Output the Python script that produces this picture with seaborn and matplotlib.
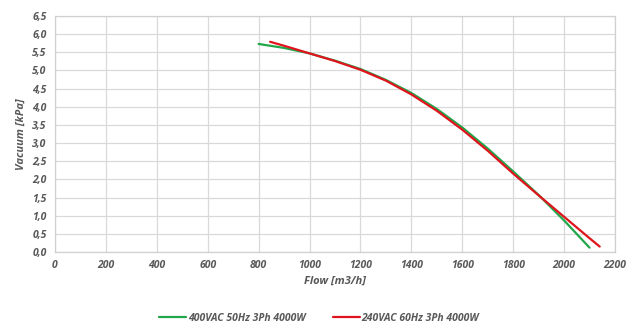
import numpy as np
import pandas as pd
import matplotlib
matplotlib.use("Agg")
import matplotlib.pyplot as plt
import seaborn as sns
from matplotlib.ticker import FuncFormatter, MultipleLocator

# Curve values
flow_400 = [800, 900, 1000, 1100, 1200, 1300, 1400, 1500, 1600, 1700, 1800, 1900, 2000, 2100]
vac_400 = [5.73, 5.62, 5.47, 5.27, 5.04, 4.74, 4.38, 3.94, 3.43, 2.85, 2.22, 1.57, 0.87, 0.12]

flow_240 = [845, 900, 1000, 1100, 1200, 1300, 1400, 1500, 1600, 1700, 1800, 1900, 2000, 2100, 2140]
vac_240 = [5.79, 5.68, 5.47, 5.26, 5.02, 4.72, 4.34, 3.89, 3.37, 2.79, 2.16, 1.56, 0.97, 0.38, 0.15]

label_400 = "400VAC 50Hz 3Ph 4000W"
label_240 = "240VAC 60Hz 3Ph 4000W"

df = pd.concat([
    pd.DataFrame({"flow": flow_400, "vacuum": vac_400, "series": label_400}),
    pd.DataFrame({"flow": flow_240, "vacuum": vac_240, "series": label_240}),
])

sns.set_style("white")
plt.rcParams['font.family'] = ['Open Sans', 'DejaVu Sans']

fig = plt.figure(figsize=(6.38, 3.25), dpi=100)
ax = fig.add_axes([0.0862, 0.2246, 0.8777, 0.7262])

sns.lineplot(data=df, x="flow", y="vacuum", hue="series", sort=False,
             palette={label_400: "#21a64b", label_240: "#e0141c"},
             linewidth=1.6, ax=ax, legend=True)

txt = "#595959"
ax.set_xlim(0, 2200)
ax.set_ylim(0, 6.5)
ax.xaxis.set_major_locator(MultipleLocator(200))
ax.yaxis.set_major_locator(MultipleLocator(0.5))
ax.yaxis.set_major_formatter(FuncFormatter(lambda v, p: f"{v:.1f}".replace(".", ",")))
ax.grid(True, color="#d9d9d9", linewidth=0.9)
for s in ax.spines.values():
    s.set_color("#d0d0d0")
    s.set_linewidth(0.9)
ax.tick_params(length=0, labelsize=7.5, labelcolor=txt, pad=6)
for lab in ax.get_xticklabels() + ax.get_yticklabels():
    lab.set_fontstyle("italic")
    lab.set_fontweight("bold")

ax.set_xlabel("Flow [m3/h]", fontsize=8, color=txt, style="italic", weight="bold", labelpad=3)
ax.set_ylabel("Vacuum [kPa]", fontsize=8, color=txt, style="italic", weight="bold", labelpad=4)

handles, labels = ax.get_legend_handles_labels()
ax.get_legend().remove()
leg = fig.legend(handles, labels, loc="center", bbox_to_anchor=(0.5, 0.02), ncol=2,
                 frameon=False, fontsize=7.5, handlelength=2.6, columnspacing=2.6,
                 handletextpad=0.2)
for t in leg.get_texts():
    t.set_color(txt)
    t.set_fontstyle("italic")
    t.set_fontweight("bold")

fig.savefig("out.png", dpi=100, facecolor="white")
